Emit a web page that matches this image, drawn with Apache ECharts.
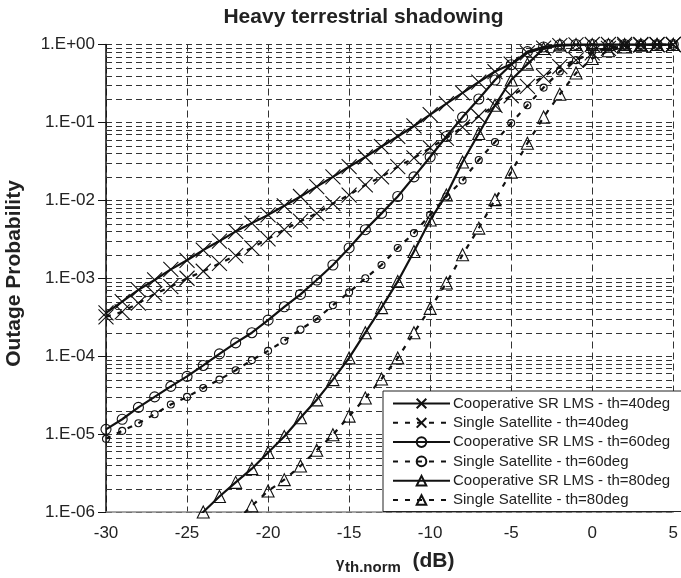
<!DOCTYPE html>
<html>
<head>
<meta charset="utf-8">
<script src="https://cdn.jsdelivr.net/npm/echarts@6/dist/echarts.min.js"></script>
<style>html,body{margin:0;padding:0;background:#fff;}#c{width:681px;height:578px;}</style>
</head>
<body>
<div id="c"></div>
<script>
// x values (dB)
var snrDb = [-30,-29,-28,-27,-26,-25,-24,-23,-22,-21,-20,-19,-18,-17,-16,-15,-14,-13,-12,-11,-10,-9,-8,-7,-6,-5,-4,-3,-2,-1,0,1,2,3,4,5];

var coop40 = [3.6e-4,5.0e-4,7.1e-4,9.5e-4,1.3e-3,1.7e-3,2.3e-3,3.0e-3,4.0e-3,5.1e-3,6.5e-3,8.5e-3,1.12e-2,1.5e-2,2.0e-2,2.7e-2,3.6e-2,4.9e-2,6.6e-2,9.0e-2,0.126,0.174,0.24,0.33,0.45,0.56,0.78,0.90,0.97,0.99,1,1,1,1,1,1];
var single40 = [3.2e-4,3.7e-4,4.8e-4,6.3e-4,7.8e-4,1.0e-3,1.23e-3,1.55e-3,1.95e-3,2.45e-3,3.2e-3,4.2e-3,5.4e-3,6.8e-3,9.1e-3,1.17e-2,1.58e-2,2.0e-2,2.7e-2,3.5e-2,4.7e-2,6.3e-2,8.7e-2,0.12,0.166,0.22,0.29,0.39,0.52,0.63,0.78,0.89,0.95,0.98,0.99,1];
var coop60 = [1.15e-5,1.55e-5,2.2e-5,3.0e-5,4.1e-5,5.5e-5,7.6e-5,1.07e-4,1.48e-4,2.0e-4,2.9e-4,4.3e-4,6.2e-4,9.5e-4,1.48e-3,2.45e-3,4.2e-3,6.8e-3,1.12e-2,2.0e-2,3.6e-2,6.6e-2,0.117,0.20,0.35,0.55,0.81,0.93,0.99,1,1,1,1,1,1,1];
var single60 = [8.7e-6,1.1e-5,1.38e-5,1.8e-5,2.4e-5,3.0e-5,3.9e-5,5.0e-5,6.6e-5,8.9e-5,1.17e-4,1.58e-4,2.2e-4,3.0e-4,4.5e-4,6.6e-4,1.0e-3,1.48e-3,2.45e-3,3.8e-3,6.5e-3,1.12e-2,1.8e-2,3.3e-2,5.6e-2,9.8e-2,0.166,0.28,0.45,0.63,0.81,0.91,0.98,0.99,1,1];
var coop80 = [null,null,null,null,null,6.3e-7,1.0e-6,1.58e-6,2.4e-6,3.6e-6,5.8e-6,9.3e-6,1.62e-5,2.75e-5,5.0e-5,9.5e-5,2.0e-4,4.2e-4,9.1e-4,2.2e-3,5.6e-3,1.17e-2,3.1e-2,7.2e-2,0.166,0.35,0.56,0.89,0.99,1,1,1,1,1,1,1];
var single80 = [null,null,null,null,null,null,null,null,7.6e-7,1.2e-6,1.86e-6,2.6e-6,3.9e-6,6.2e-6,9.8e-6,1.7e-5,2.9e-5,5.1e-5,9.5e-5,2.0e-4,4.1e-4,8.7e-4,2.0e-3,4.4e-3,1.02e-2,2.3e-2,5.4e-2,0.117,0.23,0.43,0.66,0.83,0.93,0.98,1,1];

var seriesNames = [
  'Cooperative SR LMS - th=40deg',
  'Single Satellite - th=40deg',
  'Cooperative SR LMS - th=60deg',
  'Single Satellite - th=60deg',
  'Cooperative SR LMS - th=80deg',
  'Single Satellite - th=80deg'
];
var yTickLabels = ['1.E-06','1.E-05','1.E-04','1.E-03','1.E-02','1.E-01','1.E+00'];
var yDecades = [-6,-5,-4,-3,-2,-1,0];
var xMin = -30, xMax = 5;

function pairs(vals){ return snrDb.map(function(x,i){ return [x, vals[i]]; }); }

var XSYM = 'path://M0,0L10,10M0,10L10,0';
var FONT = 'Liberation Sans';
var INK = '#111';

function mk(name, vals, dashed, symbol, size){
  return {
    name: name, type: 'line', data: pairs(vals), z: 3,
    symbol: symbol, symbolSize: size, showSymbol: true, showAllSymbol: true,
    clip: true, connectNulls: false,
    lineStyle: {color: INK, width: 2.2, type: dashed ? [5,7] : 'solid'},
    itemStyle: {color: 'rgba(0,0,0,0)', borderColor: INK, borderWidth: 1.1},
    emphasis: {disabled: true}
  };
}

// minor grid line positions (2..9 x 10^e)
var minorVals = [];
for (var e = -6; e < 0; e++) for (var k = 2; k <= 9; k++) minorVals.push(k * Math.pow(10, e));

var chart = echarts.init(document.getElementById('c'), null, {renderer: 'canvas'});
chart.setOption({
  animation: false,
  backgroundColor: '#fff',
  textStyle: {fontFamily: FONT},
  grid: {left: 106, right: 6, top: 44.5, bottom: 66, containLabel: false},
  graphic: [
    {type: 'text', x: 363.5, y: 17, style: {text: 'Heavy terrestrial shadowing', font: 'bold 21px ' + FONT, fill: '#222', align: 'center', verticalAlign: 'middle'}},
    {type: 'text', x: 14, y: 273.5, rotation: Math.PI/2, style: {text: 'Outage Probability', font: 'bold 21px ' + FONT, fill: '#222', align: 'center', verticalAlign: 'middle'}},
    {type: 'text', x: 336, y: 563.5, style: {text: 'γ', font: 'bold 15px ' + FONT, fill: '#222', align: 'left', verticalAlign: 'middle'}},
    {type: 'text', x: 345, y: 567.5, style: {text: 'th.norm', font: 'bold 15px ' + FONT, fill: '#222', align: 'left', verticalAlign: 'middle'}},
    {type: 'text', x: 412.5, y: 561.5, style: {text: '(dB)', font: 'bold 21px ' + FONT, fill: '#222', align: 'left', verticalAlign: 'middle'}}
  ],
  legend: {
    orient: 'vertical', left: 383, top: 391,
    padding: [5, 12, 4, 9],
    backgroundColor: '#fff', borderColor: '#222', borderWidth: 1,
    itemWidth: 57, itemHeight: 12, itemGap: 4.3,
    textStyle: {fontSize: 15, color: '#222', fontFamily: FONT, padding: [0,0,0,-2]},
    data: seriesNames
  },
  xAxis: {
    type: 'value', min: xMin, max: xMax, interval: 5,
    axisLine: {show: true, onZero: false, lineStyle: {color: '#888', width: 1.5}},
    axisTick: {show: false},
    axisLabel: {fontSize: 17, color: '#222', margin: 13, fontFamily: FONT},
    splitLine: {show: true, lineStyle: {color: '#333', type: [7,4], width: 1}}
  },
  yAxis: {
    type: 'log', logBase: 10, min: 1e-6, max: 1,
    axisLine: {show: true, onZero: false, lineStyle: {color: '#111', width: 1.5}},
    axisTick: {show: true, length: 8, lineStyle: {color: '#111'}},
    axisLabel: {fontSize: 17, color: '#222', margin: 11, fontFamily: FONT,
      formatter: function(v){ var ex = Math.round(Math.log10(v)); var i = yDecades.indexOf(ex); return i >= 0 ? yTickLabels[i] : ''; }},
    splitLine: {show: true, lineStyle: {color: '#333', type: [6,4], width: 1}}
  },
  series: [
    {
      name: 'minorGrid', type: 'custom', z: 1, silent: true,
      data: minorVals.map(function(v){ return [xMin, v]; }),
      encode: {x: 0, y: 1},
      renderItem: function(params, api){
        var v = api.value(1);
        var p1 = api.coord([xMin, v]);
        var p2 = api.coord([xMax, v]);
        var y = Math.round(p1[1]) + 0.5;
        return {type: 'line', shape: {x1: p1[0], y1: y, x2: p2[0], y2: y},
          style: {stroke: '#333', lineDash: [6,4], lineWidth: 1}};
      }
    },
    mk(seriesNames[0], coop40, false, XSYM, 15),
    mk(seriesNames[1], single40, true, XSYM, 15),
    mk(seriesNames[2], coop60, false, 'circle', 10),
    mk(seriesNames[3], single60, true, 'circle', 7),
    mk(seriesNames[4], coop80, false, 'triangle', 12),
    mk(seriesNames[5], single80, true, 'triangle', 12)
  ]
});
</script>
</body>
</html>
